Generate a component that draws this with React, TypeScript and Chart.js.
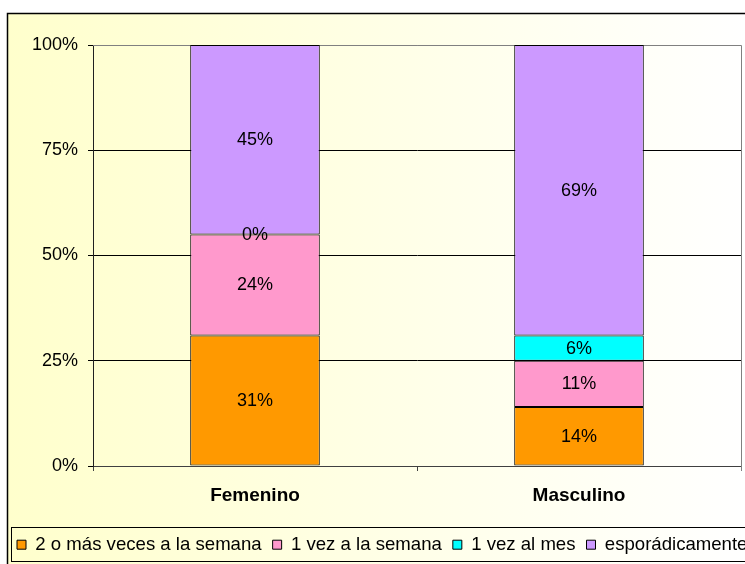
import React, { useEffect, useRef } from 'react';
import { Chart, registerables } from 'chart.js';

Chart.register(...registerables);

const categories = ['Femenino', 'Masculino'];
const seriesNames = ['2 o más veces a la semana', '1 vez a la semana', '1 vez al mes', 'esporádicamente'];
const twoOrMorePerWeek = [31, 14];
const oncePerWeek = [24, 11];
const oncePerMonth = [0, 6];
const sporadic = [45, 69];
const seriesColors = ['#FF9900', '#FF99CC', '#00FFFF', '#CC99FF'];
const yTickValues = [0, 25, 50, 75, 100];

const FONT = '"Liberation Sans", Arial, sans-serif';
const CANVAS_W = 800;
const CANVAS_H = 564;
const PLOT_RIGHT = 741;

const decorPlugin = {
  id: 'decor',
  beforeDraw(chart: any) {
    const { ctx, width, height } = chart;
    ctx.save();
    ctx.fillStyle = '#ffffff';
    ctx.fillRect(0, 0, width, height);
    const g = ctx.createLinearGradient(7, 0, 745, 0);
    g.addColorStop(0, '#FFFFCC');
    g.addColorStop(1, '#FFFFFF');
    ctx.fillStyle = g;
    ctx.fillRect(7, 13, width - 7, height - 13);
    ctx.strokeStyle = '#000000';
    ctx.lineWidth = 1.5;
    ctx.strokeRect(7.5, 13.5, width, height);
    ctx.restore();
  },
  beforeDatasetsDraw(chart: any) {
    const { ctx, chartArea: a } = chart;
    ctx.save();
    ctx.strokeStyle = '#808080';
    ctx.lineWidth = 1;
    ctx.beginPath();
    ctx.moveTo(a.left, Math.round(a.top) + 0.5);
    ctx.lineTo(Math.round(a.right) + 0.5, Math.round(a.top) + 0.5);
    ctx.lineTo(Math.round(a.right) + 0.5, Math.round(a.bottom) + 5);
    ctx.stroke();
    ctx.restore();
  },
  afterDatasetsDraw(chart: any) {
    const { ctx } = chart;
    ctx.save();
    ctx.fillStyle = '#000000';
    ctx.font = `18px ${FONT}`;
    ctx.textAlign = 'center';
    ctx.textBaseline = 'middle';
    chart.data.datasets.forEach((ds: any, di: number) => {
      const meta = chart.getDatasetMeta(di);
      meta.data.forEach((el: any, i: number) => {
        const { x, y, base } = el.getProps(['x', 'y', 'base'], true);
        ctx.fillText(`${Math.round(ds.data[i])}%`, x, (y + base) / 2 + 0.5);
      });
    });
    ctx.restore();
  },
  afterDraw(chart: any) {
    const { ctx, legend, width } = chart;
    if (!legend) return;
    ctx.save();
    ctx.strokeStyle = '#000000';
    ctx.lineWidth = 1;
    const top = Math.round(legend.top + 2.6) + 0.5;
    const bottom = 561.5;
    ctx.strokeRect(11.5, top, width, bottom - top);
    ctx.restore();
  },
};

export default function App() {
  const canvasRef = useRef<HTMLCanvasElement | null>(null);

  useEffect(() => {
    const canvas = canvasRef.current;
    if (!canvas) return;
    const values = [twoOrMorePerWeek, oncePerWeek, oncePerMonth, sporadic];
    const chart = new Chart(canvas, {
      type: 'bar',
      data: {
        labels: categories,
        datasets: seriesNames.map((name, i) => ({
          label: name,
          data: values[i],
          backgroundColor: seriesColors[i],
          borderColor: '#000000',
          borderWidth: 1,
          borderSkipped: false,
          barPercentage: 0.4,
          categoryPercentage: 1,
        })),
      },
      options: {
        responsive: false,
        animation: false,
        devicePixelRatio: 1,
        layout: { padding: { top: 45, left: 6, right: 0, bottom: 0 } },
        plugins: {
          tooltip: { enabled: false },
          legend: {
            position: 'bottom',
            align: 'start',
            labels: {
              boxWidth: 9,
              boxHeight: 9,
              padding: 11,
              color: '#000000',
              font: { family: FONT, size: 18.6 },
            },
          },
        },
        scales: {
          x: {
            stacked: true,
            grid: {
              display: true,
              drawOnChartArea: false,
              drawTicks: true,
              tickLength: 5,
              color: '#404040',
              offset: true,
            },
            border: { display: true, color: '#404040', width: 1 },
            ticks: {
              color: '#000000',
              padding: 13,
              font: { family: FONT, size: 19, weight: 'bold' },
            },
            afterFit: (scale: any) => {
              scale.height = 58.4;
            },
          },
          y: {
            stacked: true,
            min: 0,
            max: 100,
            afterBuildTicks: (scale: any) => {
              scale.ticks = yTickValues.map((v) => ({ value: v }));
            },
            grid: {
              color: (c: any) => (c.tick && c.tick.value === 100 ? '#808080' : '#000000'),
              tickColor: '#000000',
              tickLength: 5,
              drawTicks: true,
            },
            border: { display: true, color: '#202020', width: 1 },
            ticks: {
              color: '#000000',
              padding: 10,
              font: { family: FONT, size: 18 },
              callback: (v: any) => `${v}%`,
            },
            afterFit: (scale: any) => {
              scale.width = 87;
            },
          },
          yRight: {
            type: 'linear',
            position: 'right',
            display: true,
            grid: { display: false, drawTicks: false },
            border: { display: false },
            ticks: { display: false },
            afterFit: (scale: any) => {
              scale.width = CANVAS_W - PLOT_RIGHT;
            },
          },
        },
      },
      plugins: [decorPlugin],
    } as any);
    return () => chart.destroy();
  }, []);

  return (
    <div style={{ position: 'fixed', left: 0, top: 0, width: 745, height: 564, overflow: 'hidden' }}>
      <canvas
        ref={canvasRef}
        width={CANVAS_W}
        height={CANVAS_H}
        style={{ display: 'block', width: CANVAS_W, height: CANVAS_H }}
      />
    </div>
  );
}
